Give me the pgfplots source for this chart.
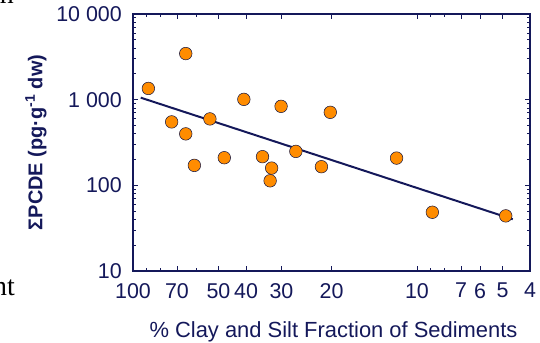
\documentclass[border=0pt]{standalone}
\usepackage{pgfplots}
\pgfplotsset{compat=1.18}
\usepackage{fontspec}
\setmainfont{Liberation Sans}
\newfontfamily\seriffont{Liberation Serif}
\definecolor{navy}{RGB}{20,24,90}
\definecolor{dotorange}{RGB}{255,140,0}
\begin{document}
\begin{tikzpicture}
\useasboundingbox (0,0) rectangle (540bp,343bp);
\node[anchor=base east,inner sep=0pt,font=\seriffont\fontsize{28}{28}\selectfont] at (15bp,47bp) {nt};
\node[anchor=base east,inner sep=0pt,font=\seriffont\fontsize{28}{28}\selectfont] at (14bp,339bp) {n};
\begin{axis}[
  at={(133bp,72bp)}, anchor=south west,
  scale only axis, width=397bp, height=257bp,
  xmode=log, ymode=log, x dir=reverse,
  xmin=4, xmax=100, ymin=10, ymax=10000,
  axis line style={navy, line width=1.4pt},
  every tick/.style={navy, line width=0.9pt},
  tick align=inside,
  major tick length=5bp, minor tick length=3.5bp,
  xtick={100,70,50,40,30,20,10,7,6,5,4},
  xticklabels={100,70,50,40,30,20,10,7,6,5,4},
  extra x ticks={90,80,60,9,8},
  extra x tick labels={},
  extra x tick style={major tick length=3.5bp},
  ytick={10,100,1000,10000},
  yticklabels={10,100,1 000,10 000},
  minor y tick num=8,
  tick label style={font=\fontsize{21.5}{21.5}\selectfont, text=navy, inner sep=0pt},
  xticklabel style={anchor=north, yshift=-12bp},
  yticklabel style={anchor=east, xshift=-11bp},
  clip=false,
]
\addplot[navy, line width=2pt] coordinates {(93.9,1055) (4.6,40.2)};
\addplot[only marks, mark=*, mark size=6.3bp, mark options={fill=dotorange, draw=navy!70!black, line width=0.5pt}] coordinates {
(88.3,1352) (65.2,3453) (73.1,550) (65.2,399) (60.8,171) (53.6,596)
(47.7,210) (40.7,1008) (35.0,216) (32.5,159) (32.9,113) (30.1,836)
(26.7,249) (21.7,165) (20.2,712) (11.8,208) (8.83,48.5) (4.87,44)
};
\node[anchor=base, font=\fontsize{22}{22}\selectfont, text=navy, inner sep=0pt] at (axis description cs:0.505,-0.257) {\% Clay and Silt Fraction of Sediments};
\node[anchor=base, rotate=90, font=\bfseries\fontsize{20}{20}\selectfont, text=navy, inner sep=0pt] at (axis description cs:-0.228,0.5) {ΣPCDE (pg·g\textsuperscript{-1} dw)};
\end{axis}
\end{tikzpicture}
\end{document}
